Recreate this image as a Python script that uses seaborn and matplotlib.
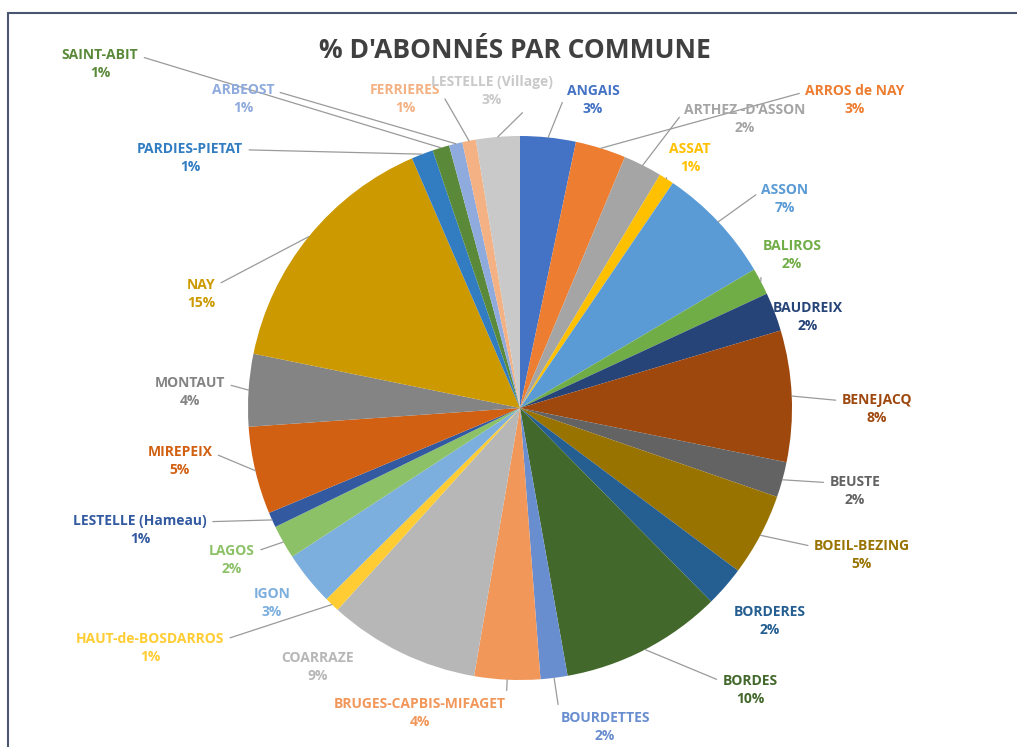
import numpy as np
import matplotlib.pyplot as plt
import matplotlib.patches as mpatches
import seaborn as sns

# === DATA ===
communes = [
    "ANGAIS", "ARROS de NAY", "ARTHEZ -D'ASSON", "ASSAT", "ASSON", "BALIROS",
    "BAUDREIX", "BENEJACQ", "BEUSTE", "BOEIL-BEZING", "BORDERES", "BORDES",
    "BOURDETTES", "BRUGES-CAPBIS-MIFAGET", "COARRAZE", "HAUT-de-BOSDARROS",
    "IGON", "LAGOS", "LESTELLE (Hameau)", "MIREPEIX", "MONTAUT", "NAY",
    "PARDIES-PIETAT", "SAINT-ABIT", "ARBEOST", "FERRIERES", "LESTELLE (Village)",
]
shares = [
    3.3, 3.0, 2.3, 0.9, 7.0, 1.6,
    2.3, 7.8, 2.1, 4.9, 2.4, 9.6,
    1.6, 3.9, 9.0, 0.9,
    3.2, 2.0, 0.9, 5.2, 4.3, 15.3,
    1.3, 1.0, 0.8, 0.8, 2.6,
]
colors = [
    "#4472C4", "#ED7D31", "#A5A5A5", "#FFC000", "#5B9BD5", "#70AD47",
    "#264478", "#9E480E", "#636363", "#997300", "#255E91", "#43682B",
    "#698ED0", "#F1975A", "#B7B7B7", "#FFCD33", "#7CAFDD", "#8CC168",
    "#335AA1", "#D26012", "#848484", "#CC9A00", "#327DC2", "#5A8A39",
    "#8FAADC", "#F4B183", "#C9C9C9",
]

# === LAYOUT (pixel coords of label block centre) ===
W, H = 1017, 747
CX, CY, R = 520, 408, 272
label_pos = {
    "ANGAIS": (593, 100), "ARROS de NAY": (855, 100), "ARTHEZ -D'ASSON": (745, 119),
    "ASSAT": (690, 158), "ASSON": (785, 199), "BALIROS": (792, 255),
    "BAUDREIX": (808, 317), "BENEJACQ": (877, 409), "BEUSTE": (855, 491),
    "BOEIL-BEZING": (862, 555), "BORDERES": (770, 621), "BORDES": (750, 690),
    "BOURDETTES": (605, 727), "BRUGES-CAPBIS-MIFAGET": (420, 713),
    "COARRAZE": (318, 667), "HAUT-de-BOSDARROS": (150, 648), "IGON": (272, 603),
    "LAGOS": (232, 560), "LESTELLE (Hameau)": (140, 530), "MIREPEIX": (180, 461),
    "MONTAUT": (190, 392), "NAY": (201, 294), "PARDIES-PIETAT": (190, 158),
    "SAINT-ABIT": (100, 64), "ARBEOST": (243, 99), "FERRIERES": (405, 99),
    "LESTELLE (Village)": (492, 91),
}
no_leader = {"BAUDREIX", "BORDERES", "COARRAZE", "IGON"}

sns.set_theme(style="white")
plt.rcParams["font.family"] = ["Open Sans", "DejaVu Sans"]

fig = plt.figure(figsize=(W / 100, H / 100), dpi=100)
fig.patch.set_facecolor("white")
ax = fig.add_axes([0, 0, 1, 1])

palette = sns.color_palette(colors)
wedges, _ = ax.pie(shares, colors=palette, startangle=90, counterclock=False,
                   radius=R, center=(CX, H - CY),
                   wedgeprops=dict(linewidth=0))
ax.set_xlim(0, W)
ax.set_ylim(0, H)
ax.set_aspect("equal")
ax.axis("off")

# chart frame
frame = mpatches.Rectangle((8, -10), W, H - 13 + 10, fill=False,
                           edgecolor="#4a5672", linewidth=1.5,
                           transform=ax.transData, clip_on=False)
ax.add_patch(frame)

ax.text(515, H - 50, "% D'ABONNÉS PAR COMMUNE", ha="center", va="center",
        fontsize=19, fontweight="bold", color="#404040")

total = sum(shares)
for name, val, w, col in zip(communes, shares, wedges, colors):
    mid = np.deg2rad((w.theta1 + w.theta2) / 2)
    px = CX + R * np.cos(mid)
    py = (H - CY) + R * np.sin(mid)
    lx, ly = label_pos[name]
    ly = H - ly
    txt = f"{name}\n{round(val / total * 100):.0f}%"
    kw = dict(ha="center", va="center", fontsize=10, fontweight="bold",
              color=col, linespacing=1.45)
    if name in no_leader:
        ax.text(lx, ly, txt, **kw)
        continue
    ax.annotate(txt, xy=(px, py), xytext=(lx, ly),
                arrowprops=dict(arrowstyle="-", color="#9a9a9a", lw=0.9,
                                shrinkA=2, shrinkB=0,
                                relpos=(1.0, 0.75) if lx < CX else (0.0, 0.75)),
                **kw)

fig.savefig("out.png", dpi=100)
